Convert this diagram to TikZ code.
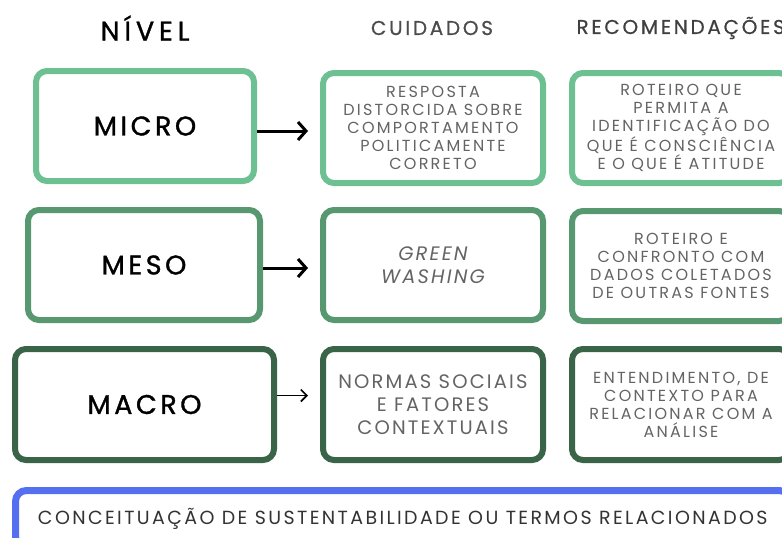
\documentclass[tikz,border=0pt]{standalone}
\usepackage{fontspec}
\setmainfont{Poppins}
\newfontfamily\popLvl[LetterSpace=13,FakeBold=1.2]{Poppins}
\newfontfamily\popHead[LetterSpace=13.5,FakeBold=0.6]{Poppins}
\newfontfamily\popNiv[LetterSpace=18,FakeBold=1.2]{Poppins}
\newfontfamily\popS[LetterSpace=14]{Poppins}
\newfontfamily\popB[LetterSpace=11]{Poppins}
\newfontfamily\popF[LetterSpace=12.5]{Poppins}
\usetikzlibrary{arrows.meta,calc}
\definecolor{gA}{RGB}{108,192,146}
\definecolor{gB}{RGB}{87,152,113}
\definecolor{gC}{RGB}{58,100,72}
\definecolor{bl}{RGB}{84,112,240}
\definecolor{txt}{RGB}{100,100,100}
\begin{document}
\begin{tikzpicture}[x=1pt,y=-1pt,
  box/.style={draw,line width=6pt,rounded corners=11pt,minimum height=110pt,inner sep=0pt},
  lvltext/.style={font=\popLvl\fontsize{27}{30}\selectfont,text=black},
  small/.style={font=\popS\fontsize{16}{18}\selectfont,text=txt,align=center},
  big/.style={font=\popB\fontsize{19.5}{23}\selectfont,text=txt,align=center},
  head/.style={font=\popHead\fontsize{20}{24}\selectfont},
  arr/.style={line width=3pt,-{Straight Barb[length=8pt,width=18pt]}},
  arrthin/.style={line width=1.6pt,-{Straight Barb[length=6pt,width=12pt]}}]
\useasboundingbox (0,0) rectangle (782,538);
\clip (0,0) rectangle (782,538);
\fill[white] (0,0) rectangle (782,538);
% headers
\node[font=\popNiv\fontsize{27}{30}\selectfont,text=black] (hN) at (145,28) {NÍVEL};
\node[head,text=black!70] (hC) at (432,28) {CUIDADOS};
\node[head,text=black!75,anchor=west] (hR) at (573,28) {RECOMENDAÇÕES};
% row 1
\node[box,draw=gA,minimum width=218pt,lvltext] (m1) at (145,126) {MICRO};
\node[box,draw=gA,minimum width=220pt,small] (c1) at (433,128) {RESPOSTA\\DISTORCIDA SOBRE\\COMPORTAMENTO\\POLITICAMENTE\\CORRETO};
\node[box,draw=gA,minimum width=218pt,small] (r1) at (681,128) {ROTEIRO QUE\\PERMITA A\\IDENTIFICAÇÃO DO\\QUE É CONSCIÊNCIA\\E O QUE É ATITUDE};
% row 2
\node[box,draw=gB,minimum width=232pt,lvltext] (m2) at (144,265) {MESO};
\node[box,draw=gB,minimum width=220pt,big,font=\popB\itshape\fontsize{19.5}{23}\selectfont] (c2) at (433,265) {GREEN\\WASHING};
\node[box,draw=gB,minimum width=218pt,small] (r2) at (681,266) {ROTEIRO E\\CONFRONTO COM\\DADOS COLETADOS\\DE OUTRAS FONTES};
% row 3
\node[box,draw=gC,minimum width=259pt,minimum height=111pt,lvltext] (m3) at (144.5,404.5) {MACRO};
\node[box,draw=gC,minimum width=220pt,minimum height=111pt,big] (c3) at (433,404.5) {NORMAS SOCIAIS\\E FATORES\\CONTEXTUAIS};
\node[box,draw=gC,minimum width=218pt,minimum height=111pt,small] (r3) at (681,404.5) {ENTENDIMENTO, DE\\CONTEXTO PARA\\RELACIONAR COM A\\ANÁLISE};
% bottom
\node[box,draw=bl,line width=7pt,minimum width=774.5pt,minimum height=57pt,font=\popF\fontsize{19}{22}\selectfont,text=black!80] (cs) at (402.75,519) {CONCEITUAÇÃO DE SUSTENTABILIDADE OU TERMOS RELACIONADOS};
% arrows
\draw[arr] ($(m1.east)+(0,5)$) -- ($(c1.west)+(-12,3)$);
\draw[arr] ($(m2.east)+(0,3)$) -- ($(c2.west)+(-12,3)$);
\draw[arrthin] ($(m3.east)+(0,-9)$) -- ($(c3.west)+(-12,-9)$);
\end{tikzpicture}
\end{document}
